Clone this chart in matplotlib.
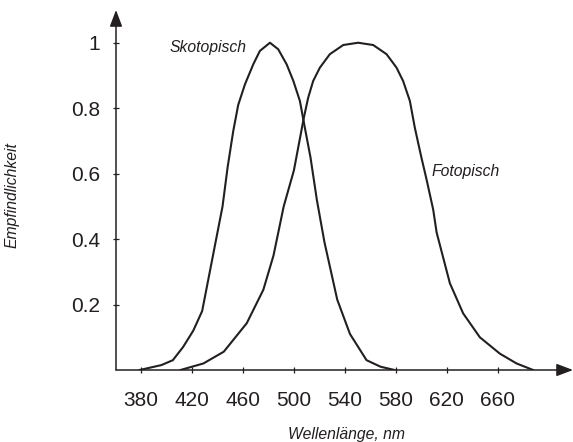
import matplotlib
matplotlib.use('Agg')
import matplotlib.pyplot as plt

# scotopic / photopic sensitivity curves
scot_nm  = [379, 396, 405, 413, 421, 428, 434, 439, 444, 448, 452.4, 456.3, 461.6, 468.1, 473.3, 481.2,
            487.7, 494.3, 499.5, 504.7, 508.6, 513, 518, 524, 534, 544, 557, 568, 579]
scot_val = [0.0, 0.015, 0.03, 0.07, 0.12, 0.18, 0.30, 0.40, 0.50, 0.62, 0.73, 0.81, 0.873, 0.934, 0.975, 1.0,
            0.98, 0.934, 0.884, 0.822, 0.74, 0.65, 0.52, 0.39, 0.215, 0.11, 0.03, 0.01, 0.0]

phot_nm  = [411, 429, 445, 463, 476, 484, 492, 500, 507.8, 511.2, 515.1, 520.4, 528.2, 538.7, 550.4,
            562.2, 572.7, 580.5, 585.7, 591, 594.9, 600, 604.1, 609.3, 612, 622.4, 632.8, 645.9,
            661.6, 674.7, 687.7]
phot_val = [0.0, 0.02, 0.056, 0.143, 0.245, 0.35, 0.50, 0.61, 0.771, 0.832, 0.883, 0.924, 0.965, 0.993, 1.0,
            0.993, 0.965, 0.924, 0.883, 0.822, 0.74, 0.65, 0.582, 0.49, 0.42, 0.265, 0.173, 0.10,
            0.05, 0.02, 0.0]

x_ticks = [380, 420, 460, 500, 540, 580, 620, 660]
y_ticks = [0.2, 0.4, 0.6, 0.8, 1.0]
y_labels = ['0.2', '0.4', '0.6', '0.8', '1']

ink = '#231f20'
text_font = ['Liberation Sans', 'DejaVu Sans']

fig = plt.figure(figsize=(5.73, 4.42), dpi=100)
ax = fig.add_axes([116 / 573, 72 / 442, 457 / 573, 360 / 442])

ax.plot(scot_nm, scot_val, color=ink, lw=1.5, solid_joinstyle='round')
ax.plot(phot_nm, phot_val, color=ink, lw=1.5, solid_joinstyle='round')

ax.set_xlim(360.4, 719)
ax.set_ylim(0, 1.10)

for s in ax.spines.values():
    s.set_visible(False)

# axes with arrow heads
arrow = dict(arrowstyle='-|>,head_length=1.0,head_width=0.38', mutation_scale=10,
             lw=1.1, color=ink, shrinkA=0, shrinkB=0)
ax.annotate('', xy=(1, 0), xytext=(0, 0), xycoords='axes fraction', arrowprops=arrow)
ax.annotate('', xy=(0, 1), xytext=(0, 0), xycoords='axes fraction', arrowprops=arrow)

ax.set_xticks(x_ticks)
ax.set_yticks(y_ticks)
ax.set_yticklabels(y_labels)
ax.tick_params(axis='x', direction='inout', length=4, width=0.9, color=ink, pad=13)
ax.tick_params(axis='y', direction='inout', length=4, width=0.9, color=ink, pad=9.5)
for lab in ax.get_xticklabels() + ax.get_yticklabels():
    lab.set_family(text_font)
    lab.set_fontsize(15)
    lab.set_color(ink)

ax.text(433, 0.985, 'Skotopisch', family=text_font, style='italic', fontsize=11.3,
        color=ink, ha='center', va='center')
ax.text(634.5, 0.608, 'Fotopisch', family=text_font, style='italic', fontsize=11.3,
        color=ink, ha='center', va='center')

fig.text(346 / 573, 1 - 434 / 442, 'Wellenlänge, nm', family=text_font, style='italic',
         fontsize=11.3, color=ink, ha='center', va='center')
fig.text(12 / 573, 1 - 195 / 442, 'Empfindlichkeit', family=text_font, style='italic',
         fontsize=11.3, color=ink, ha='center', va='center', rotation=90)

fig.savefig('out.png', dpi=100)
